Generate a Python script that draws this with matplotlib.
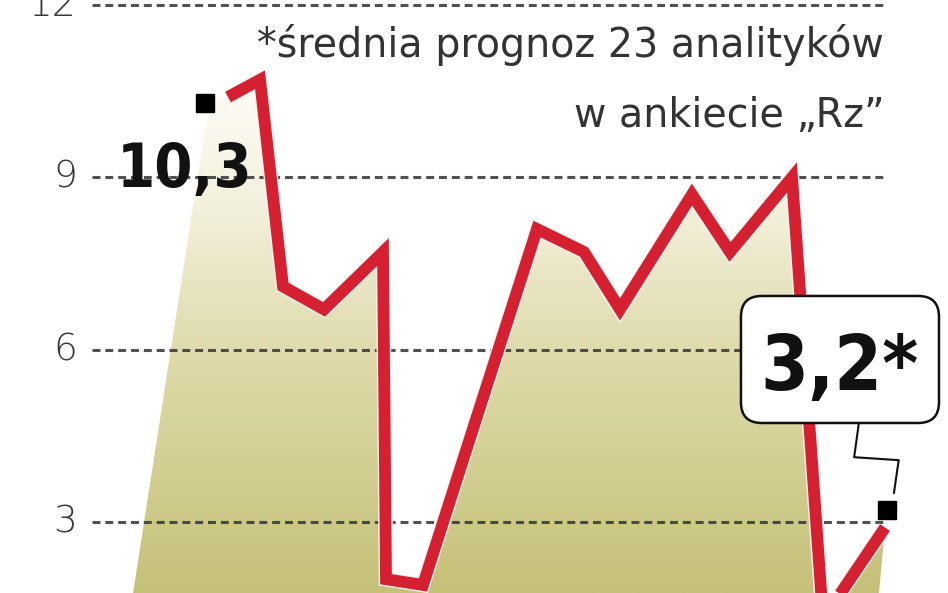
import numpy as np
import matplotlib
matplotlib.use("Agg")
import matplotlib.pyplot as plt
from matplotlib import font_manager as fm
from matplotlib.colors import LinearSegmentedColormap
from matplotlib.patches import Polygon, FancyBboxPatch
import matplotlib.patheffects as pe

# ---- data ----
t = [22.8, 26.0, 28.3, 32.4, 38.3, 38.6, 42.3, 53.7, 58.4, 62.0, 69.2, 73.0, 79.2, 82.3, 88.5]
values = [10.4, 10.7, 7.1, 6.7, 7.7, 2.0, 1.9, 8.1, 7.7, 6.7, 8.7, 7.7, 9.0, 1.3, 2.9]
label_t = [20.5, 88.7]
label_v = [10.3, 3.2]
label_text = ["10,3", "3,2*"]
yticks = [3, 6, 9, 12]
ytick_labels = ["3", "6", "9", "12"]
note_lines = ["*średnia prognoz 23 analityków", "w ankiecie \u201eRz\u201d"]

# ---- fonts ----
names = {f.name for f in fm.fontManager.ttflist}
if "Liberation Sans Narrow" in names:
    BIG = dict(family="Liberation Sans Narrow", weight="bold")
    big_scale = 1.0
else:
    BIG = dict(family="DejaVu Sans", stretch="condensed", weight="bold")
    big_scale = 0.8
LIGHT = dict(family="DejaVu Sans")

fig = plt.figure(figsize=(9.48, 5.93), dpi=100)
ax = fig.add_axes([0, 0, 1, 1])
ax.set_xlim(0, 94.8)
ylo, yhi = 1.76, 12.09
ax.set_ylim(ylo, yhi)
ax.axis("off")

# ---- gradient fill under the line (slanted left edge) ----
skew = 0.89
left_top = (t[0] - 1.8, values[0])
left_bot = (left_top[0] - skew * (values[0] - ylo), ylo)
right_bot = (t[-1] - 0.6, ylo)
verts = [left_top] + list(zip(t, values)) + [right_bot, left_bot]
poly = Polygon(verts, closed=True, facecolor="none", edgecolor="none", transform=ax.transData)
ax.add_patch(poly)
cmap = LinearSegmentedColormap.from_list(
    "g", [(0.0, "#c5c179"), (0.45, "#dedaa9"), (0.75, "#f3f1dd"), (1.0, "#fefdf7")])
grad = np.linspace(0, 1, 256).reshape(-1, 1)
im = ax.imshow(grad, extent=(0, 94.8, ylo, 10.8), origin="lower", aspect="auto",
               cmap=cmap, zorder=1, interpolation="bilinear")
im.set_clip_path(poly)

# ---- dashed grid lines ----
ax.hlines(yticks, 9.2, 88.4, colors="#333333", alpha=0.85, linewidth=2.2,
          linestyles=(0, (2.6, 1.6)), zorder=2)
for v, lab in zip(yticks, ytick_labels):
    ax.text(7.7, v, lab, ha="right", va="center", fontsize=27, color="#3a3a3a",
            fontweight="light", **LIGHT, zorder=3)

# ---- red line ----
ax.plot(t, values, color="#d42030", linewidth=8.5, solid_joinstyle="miter",
        solid_capstyle="butt", zorder=4,
        path_effects=[pe.Stroke(linewidth=10.5, foreground="#fff3f0"), pe.Normal()])

# ---- label markers ----
ax.plot(label_t, label_v, linestyle="none", marker="s", markersize=13,
        color="black", zorder=6)

# ---- note text ----
ax.text(88.4, 11.10, note_lines[0], ha="right", va="baseline", fontsize=28.5,
        color="#333333", **LIGHT, zorder=5)
ax.text(88.4, 9.88, note_lines[1], ha="right", va="baseline", fontsize=28.5,
        color="#333333", **LIGHT, zorder=5)

# ---- value labels ----
ax.annotate(label_text[0], xy=(label_t[0], label_v[0]), xytext=(-14.4, -60.5),
            textcoords="offset points", ha="center", va="baseline",
            fontsize=55 * big_scale, color="#111111", zorder=7, **BIG)

# callout box for the forecast
box = FancyBboxPatch((0.7816, 0.2867), 0.2089, 0.2142, transform=ax.transAxes,
                     boxstyle="round,pad=0,rounding_size=0.022",
                     mutation_aspect=948 / 593, fc="white", ec="#111111", lw=1.8,
                     zorder=8)
ax.add_patch(box)
ax.annotate(label_text[1], xy=(label_t[1], label_v[1]), xytext=(-34, 87),
            textcoords="offset points", ha="center", va="baseline",
            fontsize=69 * big_scale, color="#111111", zorder=9, **BIG)

# ---- connector zigzag ----
zx = [0.906, 0.901, 0.948, 0.943]
zy = [0.287, 0.229, 0.224, 0.169]
ax.plot(zx, zy, transform=ax.transAxes, color="#111111", linewidth=1.5, zorder=7)

fig.savefig("out.png", dpi=100)
